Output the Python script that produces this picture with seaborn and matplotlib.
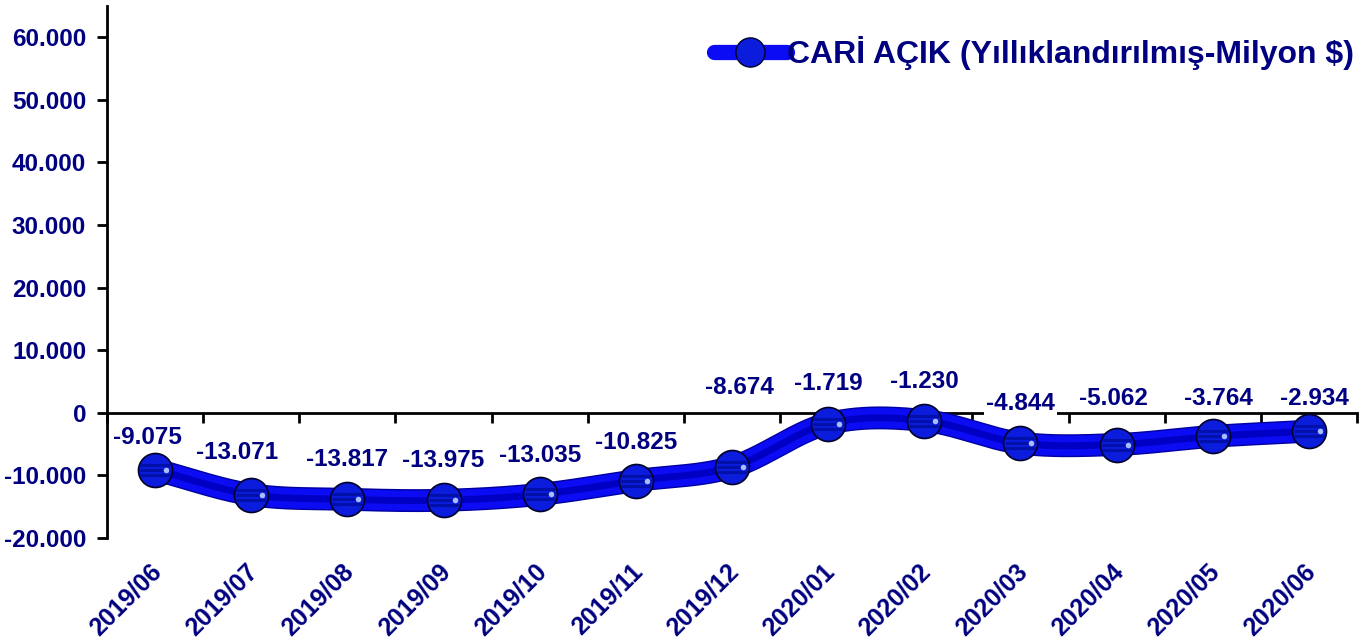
import numpy as np
import pandas as pd
import matplotlib
matplotlib.use("Agg")
import matplotlib.pyplot as plt
import matplotlib.transforms as mtrans
from matplotlib.lines import Line2D
import seaborn as sns

# ---- data ----
months = ["2019/06", "2019/07", "2019/08", "2019/09", "2019/10", "2019/11", "2019/12",
          "2020/01", "2020/02", "2020/03", "2020/04", "2020/05", "2020/06"]
deficit = [-9075, -13071, -13817, -13975, -13035, -10825, -8674,
           -1719, -1230, -4844, -5062, -3764, -2934]
series_name = "CARİ AÇIK (Yıllıklandırılmış-Milyon $)"
y_ticks = [-20000, -10000, 0, 10000, 20000, 30000, 40000, 50000, 60000]

# label offsets (pixels) relative to each point
label_dx = [-8, -14, 0, 0, 0, 0, 7, 0, 0, 0, -3, 6, 6]
label_dy = [32, 42, 40, 40, 39, 38, 80, 40, 39, 40, 46, 38, 33]

sns.set_theme(style="white")
plt.rcParams["font.family"] = ["Liberation Sans", "DejaVu Sans"]
plt.rcParams["font.weight"] = "bold"

NAVY = "#000080"
fig = plt.figure(figsize=(13.7, 6.43), dpi=100)
ax = fig.add_axes([107 / 1370, 1 - 538 / 643, (1357 - 107) / 1370, (538 - 6) / 643])

# smoothed curve (Excel-like Catmull-Rom smoothing) built from the data
x = np.arange(len(deficit), dtype=float)
y = np.array(deficit, dtype=float)
n = len(y)
m = np.zeros(n)
m[1:-1] = (y[2:] - y[:-2]) / 2
m[0] = y[1] - y[0]
m[-1] = y[-1] - y[-2]
xs, ys = [], []
for i in range(n - 1):
    t = np.linspace(0, 1, 40, endpoint=(i == n - 2))
    h00 = 2 * t**3 - 3 * t**2 + 1
    h10 = t**3 - 2 * t**2 + t
    h01 = -2 * t**3 + 3 * t**2
    h11 = t**3 - t**2
    xs.append(x[i] + t)
    ys.append(h00 * y[i] + h10 * m[i] + h01 * y[i + 1] + h11 * m[i + 1])
smooth = pd.DataFrame({"x": np.concatenate(xs), "y": np.concatenate(ys)})
pts = pd.DataFrame({"x": x, "y": y})

# tube-like thick line
sns.lineplot(data=smooth, x="x", y="y", ax=ax, color="#0000A0", lw=16.5,
             solid_capstyle="round", zorder=4, sort=False)
sns.lineplot(data=smooth, x="x", y="y", ax=ax, color="#0C0CF4", lw=14.5,
             solid_capstyle="round", zorder=4, sort=False)
sns.lineplot(data=smooth, x="x", y="y", ax=ax, color="#0000C4", lw=5,
             solid_capstyle="round", zorder=4, sort=False)

# sphere markers
ax.plot(pts["x"], pts["y"], ls="none", marker="o", ms=24.5, mfc="#0C1CDC",
        mec="#000028", mew=1.2, zorder=5)
for dy in (-5, 0, 5):
    tr = mtrans.offset_copy(ax.transData, fig=fig, x=0, y=dy, units="dots")
    ax.plot(pts["x"], pts["y"], ls="none", marker="_", ms=22, mew=2.2,
            mec="#0010A8", transform=tr, zorder=5.5)
tr_h = mtrans.offset_copy(ax.transData, fig=fig, x=11, y=0, units="dots")
ax.plot(pts["x"], pts["y"], ls="none", marker="o", ms=4, mfc="#A8BCFF",
        mec="none", transform=tr_h, zorder=6)

for i, v in enumerate(deficit):
    lab = f"{v:,}".replace(",", ".")
    ax.annotate(lab, (i, v), xytext=(label_dx[i], label_dy[i]),
                textcoords="offset pixels", ha="center", va="center",
                fontsize=17.5, fontweight="bold", color=NAVY, zorder=7,
                bbox=dict(boxstyle="square,pad=0.1", fc="white", ec="none"))

ax.set_xlim(-0.5, len(months) - 0.5)
ax.set_ylim(-20000, 65000)
ax.set_yticks(y_ticks)
ax.set_yticklabels([f"{t:,}".replace(",", ".") for t in y_ticks],
                   fontsize=17.5, fontweight="bold", color=NAVY)
ax.set_xlabel("")
ax.set_ylabel("")

for s in ["top", "right"]:
    ax.spines[s].set_visible(False)
ax.spines["left"].set_color("black")
ax.spines["left"].set_linewidth(2)
ax.spines["bottom"].set_color("black")
ax.spines["bottom"].set_linewidth(2)
ax.spines["bottom"].set_position(("data", 0))
ax.spines["bottom"].set_zorder(2)

ax.set_xticks(np.arange(-0.5, len(months), 1.0))
ax.set_xticklabels([])
ax.tick_params(axis="x", direction="out", length=7, width=2, color="black", bottom=True)
ax.tick_params(axis="y", direction="out", length=7, width=2, color="black", left=True, pad=8)

trans = mtrans.blended_transform_factory(ax.transData, ax.transAxes)
for i, mth in enumerate(months):
    ax.text(i - 0.06, -0.04, mth, transform=trans, rotation=45,
            rotation_mode="anchor", ha="right", va="top",
            fontsize=18, fontweight="bold", color=NAVY)

handle = Line2D([0], [0], color="#0C0CF4", lw=11, marker="o", ms=21,
                mfc="#0C1CDC", mec="#000028", mew=1.0)
leg = ax.legend([handle], [series_name], loc="upper right", frameon=False,
                fontsize=23, handlelength=2.3, handletextpad=0.0,
                bbox_to_anchor=(1.008, 0.968), borderaxespad=0.0)
for t in leg.get_texts():
    t.set_color(NAVY)
    t.set_fontweight("bold")

fig.savefig("out.png", dpi=100, facecolor="white")
